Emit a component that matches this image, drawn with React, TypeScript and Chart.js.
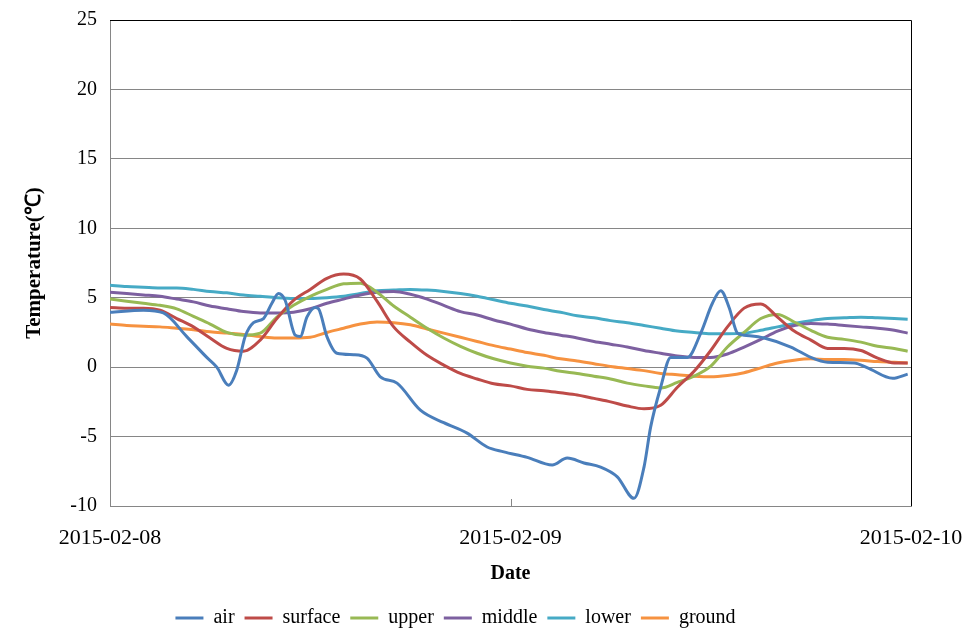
import React, { useEffect, useRef } from "react";
import { Chart, registerables } from "chart.js";

Chart.register(...registerables);

// Hours since 2015-02-08 00:00
const hours = [0, 1, 2, 3, 4, 5, 6, 7, 8, 9, 10, 11, 12, 13, 14, 15, 16, 17, 18, 19, 20, 21, 22, 23, 24,
  25, 26, 27, 28, 29, 30, 31, 32, 33, 34, 35, 36, 37, 38, 39, 40, 41, 42, 43, 44, 45, 46, 47, 47.8];

const airHours = [0, 2, 3.2, 4.6, 5.8, 6.4, 7.1, 7.6, 8.1, 8.6, 9.2, 9.7, 10.1, 10.5, 11.1, 11.4, 11.8, 12.3,
  12.5, 13.0, 13.6, 14.6, 15.4, 16.2, 17.2, 18.6, 20.0, 21.4, 22.6, 23.6, 25.0, 26.5, 27.4, 28.4, 29.4, 30.4,
  31.4, 32.0, 32.4, 33.0, 33.6, 34.6, 35.4, 36.1, 36.6, 37.1, 37.6, 38.0, 39.2, 40.8, 42.0, 43.0, 44.6, 45.4,
  46.9, 47.8];
const air = [3.95, 4.1, 3.9, 2.2, 0.7, 0.0, -1.3, -0.2, 2.2, 3.2, 3.5, 4.6, 5.3, 4.8, 2.3, 2.2, 3.6, 4.3,
  4.2, 2.2, 1.0, 0.9, 0.65, -0.7, -1.15, -3.1, -4.0, -4.75, -5.75, -6.1, -6.5, -7.05, -6.55, -6.9, -7.2, -7.9,
  -9.45, -7.2, -4.3, -1.45, 0.7, 0.7, 2.45, 4.6, 5.5, 4.3, 2.45, 2.3, 2.1, 1.45, 0.7, 0.35, 0.3, -0.05,
  -0.8, -0.5];

const surface = [4.3, 4.25, 4.25, 4.1, 3.5, 2.9, 2.1, 1.35, 1.15, 1.95, 3.5, 4.8, 5.6, 6.4, 6.7, 6.35, 4.75,
  2.9, 1.8, 0.85, 0.15, -0.45, -0.85, -1.2, -1.35, -1.6, -1.7, -1.85, -2.0, -2.25, -2.5, -2.8, -3.0, -2.75,
  -1.45, -0.3, 1.2, 2.9, 4.25, 4.55, 3.6, 2.6, 1.95, 1.35, 1.35, 1.2, 0.65, 0.3, 0.3];

const upper = [4.9, 4.75, 4.6, 4.45, 4.2, 3.65, 3.1, 2.5, 2.3, 2.45, 3.6, 4.45, 5.1, 5.6, 6.0, 6.05, 5.4,
  4.4, 3.6, 2.8, 2.1, 1.5, 1.0, 0.6, 0.3, 0.07, -0.07, -0.3, -0.45, -0.65, -0.85, -1.15, -1.35, -1.5,
  -1.1, -0.65, 0.07, 1.45, 2.5, 3.5, 3.8, 3.25, 2.65, 2.15, 2.0, 1.8, 1.5, 1.35, 1.15];

const middle = [5.4, 5.3, 5.2, 5.1, 4.9, 4.7, 4.4, 4.2, 4.0, 3.9, 3.9, 3.95, 4.2, 4.6, 4.9, 5.2, 5.4, 5.45,
  5.25, 4.9, 4.45, 4.0, 3.75, 3.4, 3.1, 2.75, 2.5, 2.3, 2.1, 1.85, 1.65, 1.45, 1.2, 1.0, 0.8, 0.7, 0.7,
  0.95, 1.45, 2.0, 2.6, 3.0, 3.15, 3.1, 3.0, 2.9, 2.8, 2.65, 2.45];

const lower = [5.9, 5.8, 5.75, 5.7, 5.7, 5.6, 5.45, 5.35, 5.2, 5.1, 5.0, 4.95, 4.95, 5.0, 5.1, 5.3, 5.5,
  5.55, 5.6, 5.55, 5.45, 5.3, 5.1, 4.85, 4.6, 4.4, 4.15, 3.95, 3.7, 3.55, 3.35, 3.2, 3.0, 2.8, 2.6, 2.5,
  2.4, 2.4, 2.45, 2.65, 2.9, 3.15, 3.35, 3.5, 3.55, 3.6, 3.55, 3.5, 3.45];

const ground = [3.1, 3.0, 2.95, 2.9, 2.8, 2.7, 2.55, 2.45, 2.35, 2.2, 2.1, 2.1, 2.15, 2.5, 2.8, 3.1, 3.25,
  3.2, 3.05, 2.75, 2.45, 2.15, 1.85, 1.55, 1.3, 1.05, 0.85, 0.6, 0.45, 0.25, 0.05, -0.1, -0.25, -0.45,
  -0.55, -0.65, -0.7, -0.6, -0.4, -0.05, 0.3, 0.5, 0.6, 0.55, 0.55, 0.5, 0.4, 0.35, 0.3];

const dateTicks = ["2015-02-08", "2015-02-09", "2015-02-10"];
const yTicks = [25, 20, 15, 10, 5, 0, -5, -10];

const seriesNames = ["air", "surface", "upper", "middle", "lower", "ground"];
const seriesColors = ["#4A7EBB", "#BE4B48", "#98B954", "#7D60A0", "#46AAC5", "#F69240"];

const FONT = "'Liberation Serif', 'Times New Roman', serif";

function toPoints(xs: number[], ys: number[]) {
  return ys.map((y, i) => ({ x: xs[i], y }));
}

const framePlugin = {
  id: "frame",
  afterDatasetsDraw(chart: any) {
    const { ctx, chartArea } = chart;
    const { left, right, top, bottom } = chartArea;
    ctx.save();
    ctx.strokeStyle = "#000000";
    ctx.lineWidth = 1;
    ctx.beginPath();
    ctx.moveTo(left, top + 0.5);
    ctx.lineTo(right + 0.5, top + 0.5);
    ctx.lineTo(right + 0.5, bottom);
    ctx.stroke();
    const xs = chart.scales.x;
    const mid = Math.round(xs.getPixelForValue(24)) + 0.5;
    ctx.strokeStyle = "#868686";
    ctx.beginPath();
    ctx.moveTo(mid, bottom);
    ctx.lineTo(mid, bottom - 7);
    ctx.stroke();
    ctx.restore();
  },
};

export default function App() {
  const ref = useRef<HTMLCanvasElement | null>(null);
  useEffect(() => {
    if (!ref.current) return;
    const series = [air, surface, upper, middle, lower, ground];
    const datasets = series.map((vals, i) => ({
      label: seriesNames[i],
      data: i === 0 ? toPoints(airHours, vals) : toPoints(hours, vals),
      borderColor: seriesColors[i],
      backgroundColor: seriesColors[i],
      borderWidth: 3,
      pointRadius: 0,
      fill: false,
      cubicInterpolationMode: "monotone" as const,
    }));
    const chart = new Chart(ref.current, {
      type: "line",
      data: { datasets },
      options: {
        animation: false,
        responsive: false,
        layout: { padding: { top: 20, right: 69, left: 0, bottom: 2 } },
        plugins: {
          tooltip: { enabled: false },
          legend: {
            position: "bottom",
            labels: {
              boxWidth: 28,
              boxHeight: 3,
              padding: 10,
              color: "#000",
              font: { family: FONT, size: 20 },
              generateLabels: (c: any) =>
                c.data.datasets.map((d: any, i: number) => ({
                  text: d.label,
                  fillStyle: seriesColors[i],
                  strokeStyle: seriesColors[i],
                  lineWidth: 0,
                  hidden: false,
                  datasetIndex: i,
                })),
            },
          },
        },
        scales: {
          x: {
            type: "linear",
            min: 0,
            max: 48,
            afterFit: (s: any) => {
              s.height = 92;
              s.paddingLeft = 0;
              s.paddingRight = 0;
            },
            afterBuildTicks: (s: any) => {
              s.ticks = dateTicks.map((_, i) => ({ value: i * 24 }));
            },
            ticks: {
              color: "#000",
              font: { family: FONT, size: 22 },
              padding: 19,
              maxRotation: 0,
              autoSkip: false,
              callback: (v: any) => dateTicks[Math.round(Number(v) / 24)],
            },
            grid: { display: false, drawTicks: false },
            border: { display: true, color: "#868686", width: 1 },
            title: {
              display: true,
              text: "Date",
              color: "#000",
              font: { family: FONT, size: 20, weight: "bold" },
              padding: { top: 0, bottom: 12 },
            },
          },
          y: {
            min: -10,
            max: 25,
            afterFit: (s: any) => {
              s.width = 110;
              s.paddingTop = 0;
              s.paddingBottom = 0;
            },
            afterBuildTicks: (s: any) => {
              s.ticks = yTicks.map((v) => ({ value: v }));
            },
            ticks: {
              color: "#000",
              font: { family: FONT, size: 20 },
              padding: 13,
            },
            grid: { color: "#868686", lineWidth: 1, drawTicks: false },
            border: { display: true, color: "#868686", width: 1 },
            title: {
              display: true,
              text: "Temperature(℃)",
              color: "#000",
              font: { family: FONT, size: 21, weight: "bold" },
              padding: { top: 22, bottom: 0 },
            },
          },
        },
      },
      plugins: [framePlugin],
    });
    return () => chart.destroy();
  }, []);
  return (
    <div style={{ position: "absolute", left: 0, top: 0, width: 980, height: 640, background: "#fff" }}>
      <canvas ref={ref} width={980} height={640} />
    </div>
  );
}
